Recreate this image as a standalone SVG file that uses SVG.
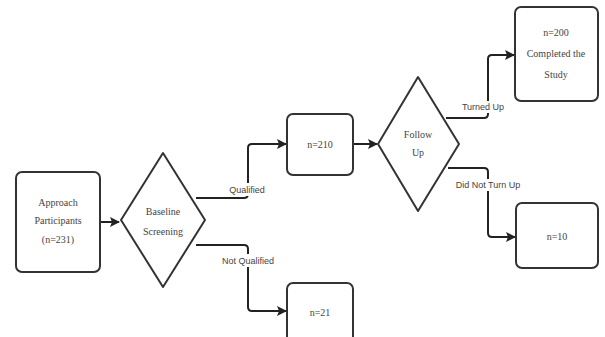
<svg xmlns="http://www.w3.org/2000/svg" width="605" height="337" viewBox="0 0 605 337">
<style>
.box{fill:#fff;stroke:#333;stroke-width:2}
.dia{fill:#fff;stroke:#333;stroke-width:2;stroke-linejoin:round}
.t{font-family:"Liberation Serif","Times New Roman",serif;font-size:10px;fill:#444;text-anchor:middle}
.lbl{font-family:"Liberation Sans",Arial,sans-serif;font-size:9px;fill:#444;text-anchor:middle}
.edge{fill:none;stroke:#222;stroke-width:2;stroke-linejoin:round}
.lbg{fill:#fff}
</style>
<defs>
<marker id="ah" markerWidth="10" markerHeight="10" refX="9" refY="5" orient="auto" markerUnits="userSpaceOnUse">
<path d="M0,0 L10,5 L0,10 L2,5 Z" fill="#222"/>
</marker>
</defs>
<rect width="605" height="337" fill="#fff"/>
<g id="connectors">
<path class="edge" d="M100,222 H119" marker-end="url(#ah)"/>
<path class="edge" d="M196,198 H244 Q248,198 248,194 V148 Q248,144 252,144 H286" marker-end="url(#ah)"/>
<path class="edge" d="M196,245 H244 Q248,245 248,249 V307 Q248,311 252,311 H286" marker-end="url(#ah)"/>
<path class="edge" d="M353,144 H377" marker-end="url(#ah)"/>
<path class="edge" d="M446,118 H484 Q488,118 488,114 V59 Q488,55 492,55 H514" marker-end="url(#ah)"/>
<path class="edge" d="M448,168 H484 Q488,168 488,172 V233 Q488,237 492,237 H515" marker-end="url(#ah)"/>
<rect class="lbg" x="226" y="183" width="42" height="13"/>
<text class="lbl" x="247" y="193">Qualified</text>
<rect class="lbg" x="220" y="254" width="56" height="13"/>
<text class="lbl" x="248" y="264">Not Qualified</text>
<rect class="lbg" x="464" y="101" width="38" height="12"/>
<text class="lbl" x="483" y="110">Turned Up</text>
<rect class="lbg" x="453" y="179" width="70" height="12"/>
<text class="lbl" x="488" y="188">Did Not Turn Up</text>
</g>
<g id="approach">
<rect class="box" x="16" y="172" width="84" height="100" rx="6"/>
<text class="t" x="58" y="206">Approach</text>
<text class="t" x="58" y="224">Participants</text>
<text class="t" x="58" y="243">(n=231)</text>
</g>
<g id="screening">
<path class="dia" d="M163,153 L205,220 L163,287 L121,220 Z"/>
<text class="t" x="163" y="215">Baseline</text>
<text class="t" x="163" y="235">Screening</text>
</g>
<g id="n210">
<rect class="box" x="287" y="114" width="66" height="61" rx="6"/>
<text class="t" x="320" y="148">n=210</text>
</g>
<g id="n21">
<rect class="box" x="287" y="283" width="66" height="70" rx="6"/>
<text class="t" x="320" y="316">n=21</text>
</g>
<g id="followup">
<path class="dia" d="M418,77 L459,144 L418,211 L378,144 Z"/>
<text class="t" x="418" y="138">Follow</text>
<text class="t" x="418" y="156">Up</text>
</g>
<g id="n200">
<rect class="box" x="515" y="7" width="83" height="94" rx="6"/>
<text class="t" x="556" y="36">n=200</text>
<text class="t" x="556" y="57">Completed the</text>
<text class="t" x="556" y="78">Study</text>
</g>
<g id="n10">
<rect class="box" x="516" y="203" width="82" height="65" rx="6"/>
<text class="t" x="557" y="240">n=10</text>
</g>
</svg>
